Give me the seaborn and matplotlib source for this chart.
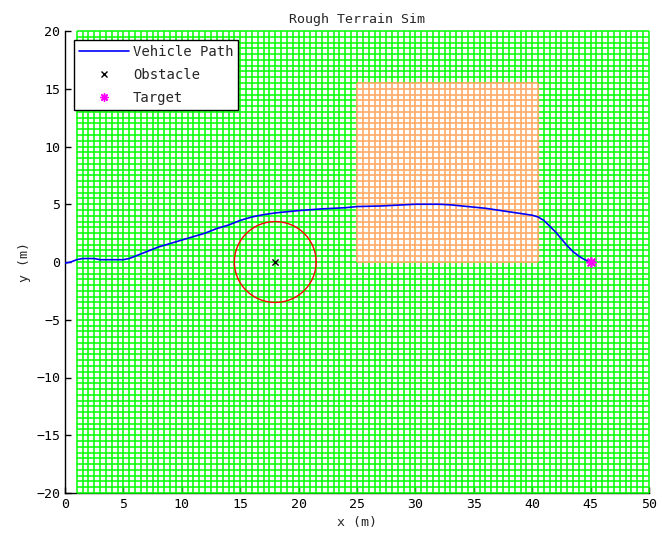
import numpy as np
import pandas as pd
import matplotlib
matplotlib.use("Agg")
import matplotlib.pyplot as plt
import seaborn as sns
from matplotlib.lines import Line2D

# ---- data ----
path_x = [0, 0.5, 1, 1.5, 2.5, 3, 4, 5, 5.5, 6, 7, 8, 9, 10, 11, 12, 13, 14, 15, 16, 17, 18,
          19, 20, 22, 24, 25, 27, 29, 30, 32, 33, 34, 35, 36, 37, 38, 39, 40, 40.5, 41, 41.5,
          42, 42.5, 43, 43.5, 44, 44.5, 45]
path_y = [-0.1, 0.0, 0.2, 0.3, 0.3, 0.2, 0.2, 0.2, 0.3, 0.5, 0.9, 1.3, 1.6, 1.9, 2.2, 2.5, 2.9, 3.2, 3.6, 3.9, 4.1, 4.25,
          4.35, 4.45, 4.6, 4.7, 4.8, 4.85, 4.95, 5.0, 5.0, 4.95, 4.85, 4.75, 4.65, 4.5, 4.35, 4.2, 4.05, 3.9, 3.6, 3.1,
          2.6, 2.0, 1.4, 0.9, 0.5, 0.2, 0.0]
obstacle_x = [18]
obstacle_y = [0]
obstacle_r = 3.5
target_x = [45]
target_y = [0]

terrain_x = (1, 50)      # green mesh extent
terrain_y = (-20, 20)
rough_x = (25, 40.5)     # orange rough patch extent
rough_y = (0, 15.5)
mesh_step = 0.5

x_ticks = [0, 5, 10, 15, 20, 25, 30, 35, 40, 45, 50]
y_ticks = [-20, -15, -10, -5, 0, 5, 10, 15, 20]

sns.set_style("white")
plt.rcParams['font.family'] = ['DejaVu Sans Mono', 'DejaVu Sans']

fig = plt.figure(figsize=(6.62, 5.42), dpi=100)
ax = fig.add_axes([65/662, 49/542, 584/662, 462/542])

green = "#00ff00"
orange = "#ffaa66"

gx = np.arange(terrain_x[0], terrain_x[1] + 1e-9, mesh_step)
gy = np.arange(terrain_y[0], terrain_y[1] + 1e-9, mesh_step)
ax.vlines(gx, terrain_y[0], terrain_y[1], colors=green, lw=1.1, zorder=3, clip_on=False)
ax.hlines(gy, terrain_x[0], terrain_x[1], colors=green, lw=1.1, zorder=3, clip_on=False)

ax.fill_between(rough_x, rough_y[0], rough_y[1], color="white", lw=0, zorder=3.5)
rx = np.arange(rough_x[0], rough_x[1] + 1e-9, mesh_step)
ry = np.arange(rough_y[0], rough_y[1] + 1e-9, mesh_step)
ax.vlines(rx, rough_y[0], rough_y[1], colors=orange, lw=1.2, zorder=4)
ax.hlines(ry, rough_x[0], rough_x[1], colors=orange, lw=1.2, zorder=4)

df = pd.DataFrame({"x": path_x, "y": path_y})
sns.lineplot(data=df, x="x", y="y", sort=False, color="#0000ff", lw=1.2, ax=ax, zorder=5)

sns.scatterplot(x=obstacle_x, y=obstacle_y, marker="x", color="black", s=20, linewidth=1, ax=ax, zorder=6)
th = np.linspace(0, 2*np.pi, 200)
ax.plot(obstacle_x[0] + obstacle_r*np.cos(th), obstacle_y[0] + obstacle_r*np.sin(th), color="#ff0000", lw=1.0, zorder=6)
sns.scatterplot(x=target_x, y=target_y, marker=(8, 2, 0), color="#ff00ff", s=45, linewidth=1.2,
                edgecolor="#ff00ff", ax=ax, zorder=7)

ax.set_xlim(0, 50)
ax.set_ylim(-20, 20)
ax.set_xticks(x_ticks)
ax.set_yticks(y_ticks)
ax.tick_params(direction="in", length=4, width=1, labelsize=9.5, colors="black", left=True, bottom=True)
for s in ["top", "right"]:
    ax.spines[s].set_visible(False)
for s in ["left", "bottom"]:
    ax.spines[s].set_color("black")
    ax.spines[s].set_linewidth(1)
    ax.spines[s].set_zorder(2)
ax.set_xlabel("x (m)", fontsize=9.5)
ax.set_ylabel("y (m)", fontsize=9.5)
ax.set_title("Rough Terrain Sim", fontsize=9.5)

handles = [Line2D([], [], color="#0000ff", lw=1.2),
           Line2D([], [], color="black", marker="x", ls="none", markersize=5),
           Line2D([], [], color="#ff00ff", marker=(8, 2, 0), ls="none", markersize=6)]
leg = ax.legend(handles, ["Vehicle Path", "Obstacle", "Target"], loc="upper left",
                bbox_to_anchor=(0.015, 0.98), borderaxespad=0, fontsize=10, frameon=True,
                fancybox=False, framealpha=1, edgecolor="black", handlelength=3.6,
                handletextpad=0.3, borderpad=0.35, labelspacing=0.65)
leg.get_frame().set_linewidth(1)
leg.set_zorder(10)

fig.savefig("out.png", dpi=100)
